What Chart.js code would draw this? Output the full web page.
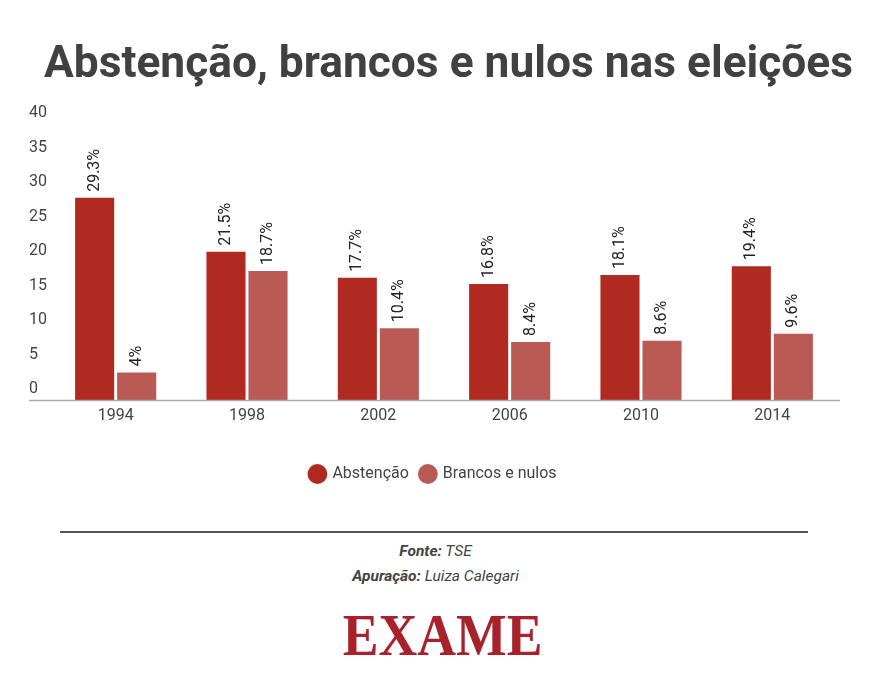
<!DOCTYPE html>
<html>
<head>
<meta charset="utf-8">
<script src="https://cdn.jsdelivr.net/npm/chart.js@4.4.1/dist/chart.umd.min.js"></script>
<style>
  html, body { margin: 0; padding: 0; background: #fff; }
  body { width: 871px; height: 682px; position: relative; overflow: hidden; font-family: Roboto, sans-serif; }
  #wrap { position: absolute; left: 0; top: 0; width: 871px; height: 500px; }
  #title { position: absolute; left: 0; top: 35px; width: 897px; text-align: center; font-family: Roboto, sans-serif; font-weight: 700; font-size: 44.3px; line-height: 54px; color: #414141; white-space: nowrap; }
  #rule { position: absolute; left: 60px; top: 531px; width: 748px; height: 2px; background: #555; }
  .src { position: absolute; left: 0; width: 871px; text-align: center; font-style: italic; font-size: 15.5px; color: #444; }
  .src b { font-weight: 700; }
  #logo { position: absolute; left: 7px; width: 871px; top: 600px; text-align: center; }
  #logo span { display: inline-block; font-family: "Liberation Serif", serif; font-weight: 700; font-size: 60px; line-height: 70px; color: #a8212b; transform: scaleX(0.895); transform-origin: center; }
</style>
</head>
<body>
<div id="wrap"><canvas id="c" width="871" height="500"></canvas></div>
<div id="title">Abstenção, brancos e nulos nas eleições</div>
<div id="rule"></div>
<div class="src" style="top:542px;"><b>Fonte:</b> TSE</div>
<div class="src" style="top:567px;"><b>Apuração:</b> Luiza Calegari</div>
<div id="logo"><span>EXAME</span></div>
<script>
const categories = ['1994', '1998', '2002', '2006', '2010', '2014'];
const abstencao = [29.3, 21.5, 17.7, 16.8, 18.1, 19.4];
const brancosNulos = [4, 18.7, 10.4, 8.4, 8.6, 9.6];
const seriesNames = ['Abstenção', 'Brancos e nulos'];
const yTicks = [0, 5, 10, 15, 20, 25, 30, 35, 40];

const valueLabels = {
  id: 'valueLabels',
  afterDatasetsDraw(chart) {
    const ctx = chart.ctx;
    ctx.save();
    ctx.font = '16px Roboto';
    ctx.fillStyle = '#222';
    ctx.textAlign = 'left';
    ctx.textBaseline = 'middle';
    chart.data.datasets.forEach((ds, i) => {
      const meta = chart.getDatasetMeta(i);
      meta.data.forEach((bar, j) => {
        ctx.save();
        ctx.translate(bar.x, bar.y - 6);
        ctx.rotate(-Math.PI / 2);
        ctx.fillText(String(ds.data[j]) + '%', 0, 0);
        ctx.restore();
      });
    });
    ctx.restore();
  }
};

const baseLine = {
  id: 'baseLine',
  afterDatasetsDraw(chart) {
    const ctx = chart.ctx;
    const y = Math.round(chart.scales.y.getPixelForValue(0)) + 0.5;
    ctx.save();
    ctx.strokeStyle = '#aaa';
    ctx.lineWidth = 1.5;
    ctx.beginPath();
    ctx.moveTo(chart.scales.y.left, y);
    ctx.lineTo(chart.chartArea.right + 2, y);
    ctx.stroke();
    ctx.restore();
  }
};

new Chart(document.getElementById('c'), {
  type: 'bar',
  data: {
    labels: categories,
    datasets: [
      { label: seriesNames[0], data: abstencao, backgroundColor: '#b02a21', categoryPercentage: 0.64, barPercentage: 0.93 },
      { label: seriesNames[1], data: brancosNulos, backgroundColor: '#b95a55', categoryPercentage: 0.64, barPercentage: 0.93 }
    ]
  },
  options: {
    responsive: false,
    animation: false,
    devicePixelRatio: 1,
    layout: { padding: { left: 29, right: 33, top: 124, bottom: 8 } },
    plugins: {
      title: { display: false },
      legend: {
        position: 'bottom',
        labels: {
          usePointStyle: true,
          pointStyle: 'circle',
          boxHeight: 14,
          boxWidth: 14,
          color: '#444',
          font: { family: 'Roboto', size: 16 },
          padding: 12
        }
      },
      tooltip: { enabled: false }
    },
    scales: {
      x: {
        grid: { display: false, drawTicks: false },
        border: { display: false },
        ticks: { color: '#444', font: { family: 'Roboto', size: 16 }, padding: 6 },
        afterFit(scale) { scale.height = 54; }
      },
      y: {
        min: 0,
        max: 40,
        afterBuildTicks(scale) { scale.ticks = yTicks.map(v => ({ value: v })); },
        grid: { display: false, drawTicks: false },
        border: { display: false },
        ticks: { color: '#444', font: { family: 'Roboto', size: 16 }, crossAlign: 'far', labelOffset: -11, padding: 0 },
        afterFit(scale) { scale.width = 21; }
      }
    }
  },
  plugins: [valueLabels, baseLine]
});
</script>
</body>
</html>
